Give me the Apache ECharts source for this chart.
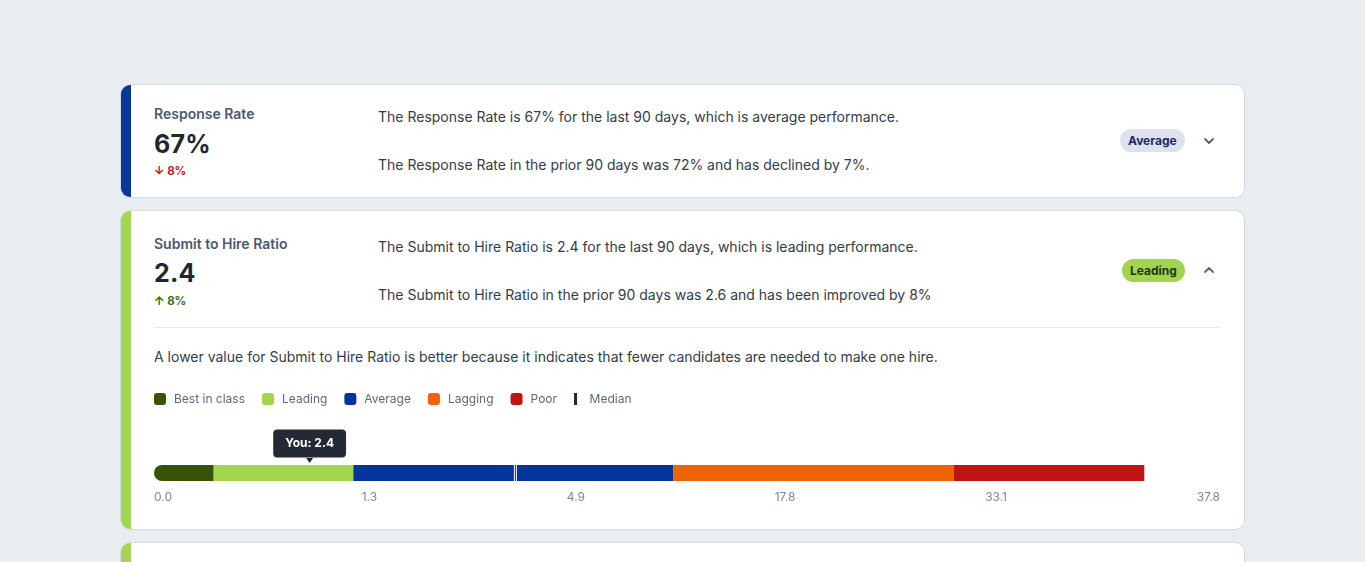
<!DOCTYPE html>
<html>
<head>
<meta charset="utf-8">
<script src="https://cdn.jsdelivr.net/npm/echarts@6/dist/echarts.min.js"></script>
<style>
  html, body { margin:0; padding:0; background:#e8edf2; font-family: Inter, "Noto Sans", sans-serif; }
  body { width:1365px; height:562px; position:relative; overflow:hidden; }
  .card { position:absolute; left:120px; width:1125px; background:#fff; border:1px solid #d3dbe5; border-radius:10px; box-sizing:border-box; overflow:hidden; }
  .stripe { position:absolute; left:0; top:0; bottom:0; width:10px; }
  .abs { position:absolute; white-space:nowrap; }
  .title { font-size:14px; line-height:20px; font-weight:600; color:#4a5a6e; }
  .value { font-size:25px; line-height:32px; font-weight:700; color:#1f2733; letter-spacing:0.2px; }
  .delta { font-size:11.5px; line-height:16px; font-weight:700; }
  .desc { font-size:14px; line-height:20px; color:#333c48; }
  .badge { font-size:12px; line-height:23px; height:23px; font-weight:700; padding:0 8px; border-radius:12px; }
  .chev { position:absolute; width:12px; height:8px; }
</style>
</head>
<body>
<div class="card" style="top:84px;height:114px;">
  <div class="stripe" style="background:#0a3796;"></div>
  <div class="abs title" style="left:33px;top:19px;">Response Rate</div>
  <div class="abs value" style="left:33px;top:43px;">67%</div>
  <div class="abs delta" style="left:33px;top:78px;color:#c01a1a;">↓ 8%</div>
  <div class="abs desc" style="left:257px;top:22px;">The Response Rate is 67% for the last 90 days, which is average performance.</div>
  <div class="abs desc" style="left:257px;top:70px;">The Response Rate in the prior 90 days was 72% and has declined by 7%.</div>
  <div class="abs badge" style="left:999px;top:44px;background:#dde2ee;color:#1b2a66;">Average</div>
  <svg class="chev" style="left:1082px;top:52px;" viewBox="0 0 12 8"><path d="M2 2 L6 6 L10 2" fill="none" stroke="#556579" stroke-width="1.8" stroke-linecap="round" stroke-linejoin="round"/></svg>
</div>

<div class="card" style="top:210px;height:320px;">
  <div class="stripe" style="background:#a3d54e;"></div>
  <div class="abs title" style="left:33px;top:23px;">Submit to Hire Ratio</div>
  <div class="abs value" style="left:33px;top:46px;">2.4</div>
  <div class="abs delta" style="left:33px;top:82px;color:#3d6b12;">↑ 8%</div>
  <div class="abs desc" style="left:257px;top:26px;">The Submit to Hire Ratio is 2.4 for the last 90 days, which is leading performance.</div>
  <div class="abs desc" style="left:257px;top:74px;">The Submit to Hire Ratio in the prior 90 days was 2.6 and has been improved by 8%</div>
  <div class="abs badge" style="left:1001px;top:48px;background:#a3d44d;color:#1f380c;">Leading</div>
  <svg class="chev" style="left:1082px;top:55px;" viewBox="0 0 12 8"><path d="M2 6 L6 2 L10 6" fill="none" stroke="#556579" stroke-width="1.8" stroke-linecap="round" stroke-linejoin="round"/></svg>
  <div class="abs" style="left:33px;top:116px;width:1067px;height:1px;background:#e6eaef;"></div>
  <div class="abs desc" style="left:33px;top:136px;">A lower value for Submit to Hire Ratio is better because it indicates that fewer candidates are needed to make one hire.</div>
  <div id="chart" class="abs" style="left:33px;top:170px;width:1067px;height:140px;"></div>
</div>

<div class="card" style="top:542px;height:60px;">
  <div class="stripe" style="background:#a3d54e;"></div>
</div>

<script>
// Segment widths, as percent of the benchmark track
var segmentNames = ['Best in class', 'Leading', 'Average', 'Lagging', 'Poor'];
var segmentColors = ['#355407', '#a3d64d', '#04349a', '#f06303', '#c01313'];
var segmentWidths = [5.6, 13.1, 30.0, 26.3, 17.9];
// Marker positions on the track (percent)
var medianPosition = 33.9;
var youPosition = 14.6;
var youValue = '2.4';
// Benchmark tick labels
var tickLabels = ['0.0', '1.3', '4.9', '17.8', '33.1', '37.8'];

var el = document.getElementById('chart');
var chart = echarts.init(el, null, { renderer: 'canvas' });

// Spread tick labels across the track like a "space-between" row
var labelFont = '12px Inter';
var ctx = document.createElement('canvas').getContext('2d');
ctx.font = labelFont;
var widths = tickLabels.map(function (t) { return ctx.measureText(t).width; });
var trackW = el.clientWidth - 1;
var sumW = widths.reduce(function (a, b) { return a + b; }, 0);
var gap = (trackW - sumW) / (tickLabels.length - 1);
var tickCenters = [];
var cursor = 0;
widths.forEach(function (w) { tickCenters.push((cursor + w / 2) / trackW * 100); cursor += w + gap; });

var series = segmentNames.map(function (name, i) {
  return {
    name: name,
    type: 'bar',
    stack: 'track',
    barWidth: 16,
    xAxisIndex: 0,
    yAxisIndex: 0,
    itemStyle: { color: segmentColors[i], borderRadius: i === 0 ? [8, 0, 0, 8] : 0, opacity: 1 },
    emphasis: { disabled: true },
    data: [segmentWidths[i]]
  };
});

// white halo behind the median tick
series.push({
  name: 'medianHalo',
  type: 'scatter',
  xAxisIndex: 0,
  yAxisIndex: 0,
  symbol: 'rect',
  symbolSize: [3, 16],
  itemStyle: { color: '#ffffff', opacity: 1 },
  emphasis: { disabled: true },
  z: 4,
  data: [[medianPosition, 0]]
});

series.push({
  name: 'Median',
  type: 'scatter',
  xAxisIndex: 0,
  yAxisIndex: 0,
  symbol: 'rect',
  symbolSize: [1, 16],
  itemStyle: { color: '#1f2733', opacity: 1 },
  emphasis: { disabled: true },
  z: 5,
  data: [[medianPosition, 0]]
});

series.push({
  name: 'You',
  type: 'scatter',
  xAxisIndex: 0,
  yAxisIndex: 0,
  symbol: 'triangle',
  symbolRotate: 180,
  symbolSize: [7, 5],
  symbolOffset: [0, -12.5],
  itemStyle: { color: '#232a35', opacity: 1 },
  emphasis: { disabled: true },
  z: 6,
  label: {
    show: true,
    position: 'inside',
    offset: [0, -17],
    formatter: 'You: ' + youValue,
    color: '#ffffff',
    fontFamily: 'Inter',
    fontSize: 12,
    fontWeight: 700,
    lineHeight: 14,
    backgroundColor: '#232a35',
    borderRadius: 4,
    padding: [7, 12]
  },
  data: [[youPosition, 0]]
});

chart.setOption({
  animation: false,
  textStyle: { fontFamily: 'Inter' },
  legend: {
    left: 0,
    top: 12,
    padding: 0,
    itemWidth: 12,
    itemHeight: 12,
    itemGap: 17,
    selectedMode: false,
    icon: 'roundRect',
    textStyle: { color: '#5a6a7e', fontSize: 12, fontFamily: 'Inter', padding: [0, 0, 0, 3] },
    data: segmentNames.concat([{ name: 'Median', icon: 'path://M0,0H3V12H0Z', itemStyle: { borderWidth: 0, color: '#1f2733' } }])
  },
  grid: { left: 0, right: 1, top: 84, height: 16, containLabel: false, outerBoundsMode: 'none' },
  xAxis: [
    { type: 'value', min: 0, max: 100, position: 'top', show: false },
    {
      type: 'value',
      min: 0,
      max: 100,
      position: 'bottom',
      axisLine: { show: false },
      axisTick: { show: false },
      splitLine: { show: false },
      axisLabel: {
        margin: 10,
        color: '#7b8898',
        fontSize: 12,
        fontFamily: 'Inter',
        customValues: tickCenters,
        showMinLabel: true,
        showMaxLabel: true,
        hideOverlap: false,
        formatter: function (v) {
          var best = 0, bd = Infinity;
          tickCenters.forEach(function (c, i) { var d = Math.abs(c - v); if (d < bd) { bd = d; best = i; } });
          return tickLabels[best];
        }
      }
    }
  ],
  yAxis: [{ type: 'category', data: ['track'], show: false }],
  series: series
});
</script>
</body>
</html>
